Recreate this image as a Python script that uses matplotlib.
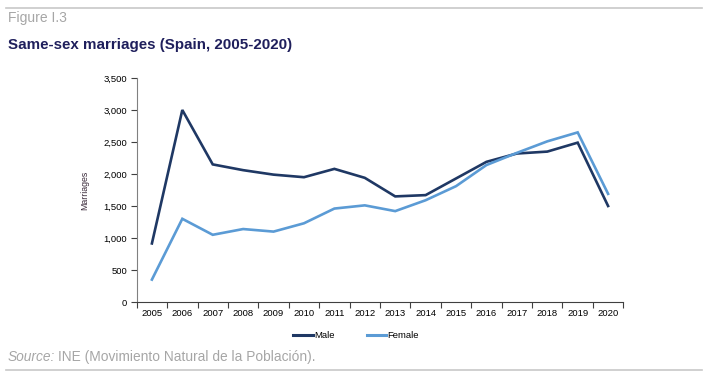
import matplotlib
matplotlib.use("Agg")
import matplotlib.pyplot as plt
from matplotlib.lines import Line2D

years = [str(y) for y in range(2005, 2021)]
male = [915, 3000, 2150, 2060, 1990, 1950, 2080, 1940, 1650, 1670, 1930, 2190, 2320, 2350, 2490, 1500]
female = [350, 1300, 1050, 1140, 1100, 1230, 1460, 1510, 1420, 1590, 1810, 2140, 2330, 2510, 2650, 1690]
series_names = ["Male", "Female"]
yticks = [0, 500, 1000, 1500, 2000, 2500, 3000, 3500]

plt.rcParams['font.family'] = ['Liberation Sans', 'DejaVu Sans']

W, H = 708, 380
fig = plt.figure(figsize=(W / 100, H / 100), dpi=100)
ax = fig.add_axes([136.7 / W, (H - 302) / H, (623.3 - 136.7) / W, (302 - 78) / H])

male_c = "#1f3864"
female_c = "#5b9bd5"
x = list(range(len(years)))
ax.plot(x, male, color=male_c, lw=1.9, solid_joinstyle='miter')
ax.plot(x, female, color=female_c, lw=1.9, solid_joinstyle='miter')

ax.set_xlim(-0.5, len(years) - 0.5)
ax.set_ylim(0, 3500)
ax.set_yticks(yticks)
ax.set_yticklabels([f"{v:,}" for v in yticks], fontsize=6.8)
ax.set_xticks([i - 0.5 for i in range(len(years) + 1)])
ax.set_xticklabels([])
ax.set_xticks(x, minor=True)
ax.set_xticklabels(years, minor=True, fontsize=6.8)
ax.tick_params(axis='x', which='minor', length=0, pad=5)
ax.tick_params(axis='x', which='major', length=4, width=0.8, color="#404040", direction='out')
ax.tick_params(axis='y', length=4, width=0.8, color="#404040", direction='out', pad=3)
for s in ["top", "right"]:
    ax.spines[s].set_visible(False)
ax.spines["left"].set_color("#808080")
ax.spines["bottom"].set_color("#404040")
ax.spines["left"].set_linewidth(0.8)
ax.spines["bottom"].set_linewidth(0.8)
ax.set_ylabel("Marriages", fontsize=6.3, labelpad=10, color="#3a2a3a")

handles = [Line2D([], [], color=male_c, lw=2.2), Line2D([], [], color=female_c, lw=2.2)]
fig.legend(handles, series_names, loc="center", bbox_to_anchor=(356 / W, (H - 335.5) / H),
           ncol=2, frameon=False, fontsize=6.8, handlelength=2.1, handletextpad=0.1,
           columnspacing=3.4)

fig.add_artist(Line2D([6 / W, 702 / W], [(H - 8) / H] * 2, color="#c8c8c8", lw=1.2))
fig.add_artist(Line2D([6 / W, 702 / W], [(H - 370) / H] * 2, color="#c8c8c8", lw=1.2))

fig.text(8 / W, (H - 18) / H, "Figure I.3", fontsize=10, color="#a6a6a6", va="center")
fig.text(8 / W, (H - 45) / H, "Same-sex marriages (Spain, 2005-2020)", fontsize=10.9,
         fontweight="bold", color="#1f1f5c", va="center")
t1 = fig.text(8 / W, (H - 357) / H, "Source:", fontsize=9.9, style="italic", color="#a6a6a6", va="center")
fig.canvas.draw()
bb = t1.get_window_extent()
fig.text(bb.x1 / W + 2.5 / W, (H - 357) / H, "INE (Movimiento Natural de la Población).",
         fontsize=9.9, color="#a6a6a6", va="center")

fig.savefig("out.png", dpi=100)
